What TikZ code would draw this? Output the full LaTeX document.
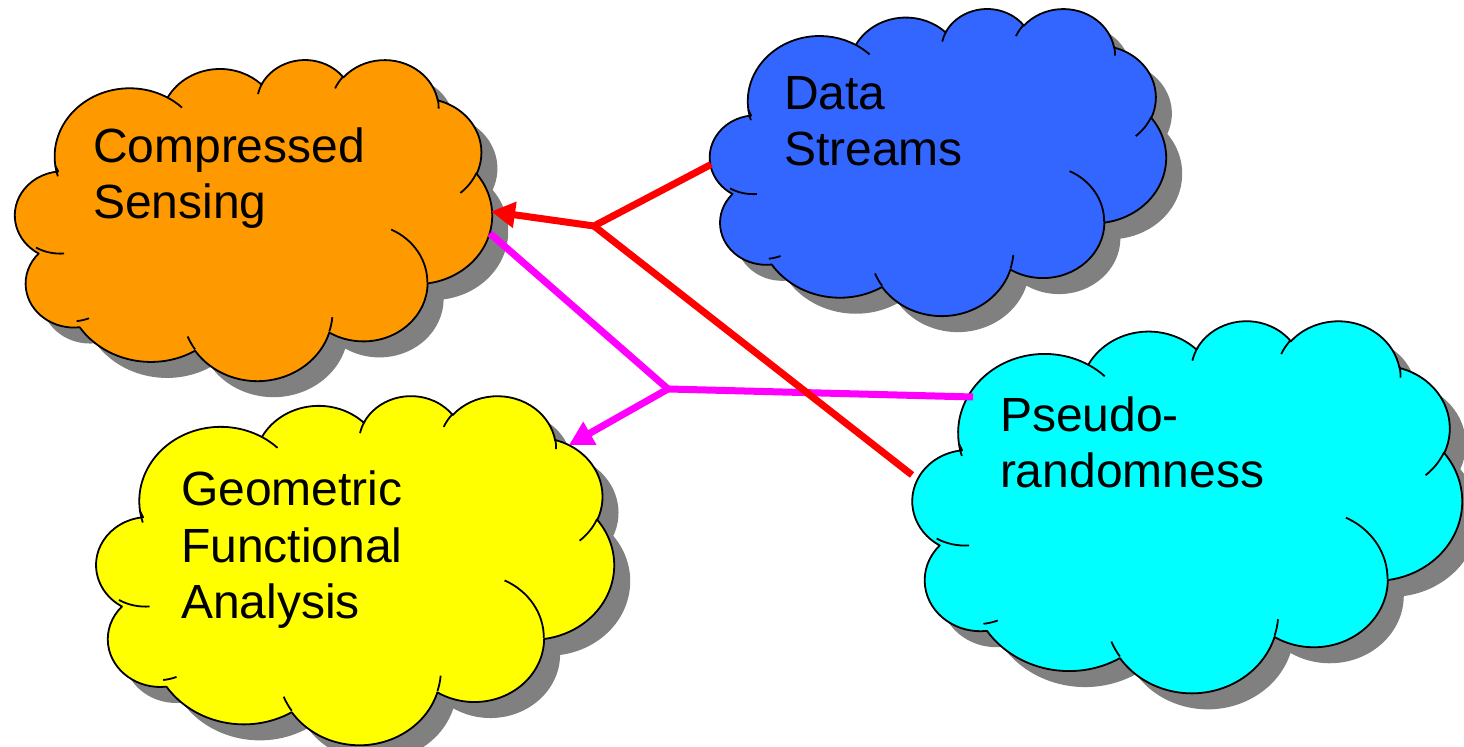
\documentclass[tikz,border=0pt]{standalone}
\usepackage{fontspec}
\setmainfont{Liberation Sans}
\usetikzlibrary{arrows.meta,calc}
\definecolor{cloudorange}{HTML}{FF9900}
\definecolor{cloudblue}{HTML}{3366FF}
\definecolor{cloudcyan}{HTML}{00FFFF}
\definecolor{cloudyellow}{HTML}{FFFF00}
\definecolor{shadowgray}{HTML}{808080}
\definecolor{linkred}{HTML}{FF0000}
\definecolor{linkmagenta}{HTML}{FF00FF}

% elliptical arc with DrawingML (visual) angles
\newcommand\pptarc[4]{%
  \pgfmathsetmacro\pptA{atan2((#1)*sin(#3),(#2)*cos(#3))}%
  \pgfmathsetmacro\pptB{atan2((#1)*sin((#3)+(#4)),(#2)*cos((#3)+(#4)))}%
  \pgfmathsetmacro\pptD{mod(\pptB-\pptA+720,360)}%
  \pgfmathsetmacro\pptE{\pptA+\pptD}%
  \pgfpatharcaxes{\pptA}{\pptE}{\pgfpointxy{#1}{0}}{\pgfpointxy{0}{#2}}%
}
\newcommand\cloudoutline{%
  \pgfpathmoveto{\pgfpointxy{3.900}{14.370}}%
  \pptarc{6.753}{9.190}{-190.48748}{123.78053}%
  \pptarc{5.333}{7.267}{-144.10238}{89.94523}%
  \pptarc{4.365}{5.945}{-145.80792}{99.72302}%
  \pptarc{4.857}{6.595}{-130.98607}{117.24173}%
  \pptarc{5.333}{7.273}{-78.70888}{109.02692}%
  \pptarc{6.775}{9.220}{-46.26725}{130.26900}%
  \pptarc{5.785}{7.867}{0.62502}{114.03333}%
  \pptarc{6.752}{9.215}{22.45160}{115.17255}%
  \pptarc{7.720}{10.543}{66.24263}{71.25458}%
  \pptarc{4.360}{5.918}{-274.94208}{146.73557}%
  \pptarc{4.345}{5.945}{-246.82850}{152.51885}%
  \pgfpathclose}
\newcommand\cloudinner{%
  \pgfpathmoveto{\pgfpointxy{4.693}{26.177}}\pptarc{4.345}{5.945}{86.74200}{26.42950}%
  \pgfpathmoveto{\pgfpointxy{6.928}{34.899}}\pptarc{4.360}{5.918}{73.61047}{11.44747}%
  \pgfpathmoveto{\pgfpointxy{16.478}{39.090}}\pptarc{6.752}{9.215}{137.62415}{14.08110}%
  \pgfpathmoveto{\pgfpointxy{28.827}{34.751}}\pptarc{6.752}{9.215}{6.45327}{15.99835}%
  \pgfpathmoveto{\pgfpointxy{34.129}{22.954}}\pptarc{5.785}{7.867}{-70.29235}{70.91737}%
  \pgfpathmoveto{\pgfpointxy{41.798}{15.354}}\pptarc{5.333}{7.273}{30.31803}{27.75150}%
  \pgfpathmoveto{\pgfpointxy{38.324}{5.426}}\pptarc{4.857}{6.595}{-13.74433}{14.85375}%
  \pgfpathmoveto{\pgfpointxy{29.078}{3.952}}\pptarc{4.857}{6.595}{-149.18145}{18.19537}%
  \pgfpathmoveto{\pgfpointxy{22.141}{4.720}}\pptarc{4.365}{5.945}{-163.49427}{19.00547}%
  \pgfpathmoveto{\pgfpointxy{14.000}{5.192}}\pptarc{6.753}{9.190}{-66.70695}{12.31935}%
  \pgfpathmoveto{\pgfpointxy{4.127}{15.789}}\pptarc{6.753}{9.190}{157.65435}{11.85817}%
}
% #1,#2 top-left (px), #3 width, #4 height, #5 fill colour
\newcommand\drawcloud[5]{%
  \pgfmathsetmacro\cldx{#3/43.2*0.5}%
  \pgfmathsetmacro\cldy{-#4/43.2*0.5}%
  \begin{scope}[shift={(#1+16,#2+16)}, x=\cldx pt, y=\cldy pt]
    \pgfsetfillcolor{shadowgray}\cloudoutline\pgfusepath{fill}
  \end{scope}
  \begin{scope}[shift={(#1,#2)}, x=\cldx pt, y=\cldy pt]
    \pgfsetfillcolor{#5}\pgfsetstrokecolor{black}\pgfsetlinewidth{0.9pt}%
    \pgfsetroundjoin
    \cloudoutline\pgfusepath{fill,stroke}
    \cloudinner\pgfusepath{stroke}
  \end{scope}
}

\tikzset{
  cloudbox/.style 2 args={draw=none, inner sep=0pt, outer sep=0pt,
    minimum width=#1*0.5pt, minimum height=#2*0.5pt},
  lbl/.style={font=\fontsize{24}{28.4}\selectfont, align=left,
    anchor=base west, inner sep=0pt, outer sep=0pt},
  link/.style={line width=3.5pt},
  redlink/.style={link, draw=linkred},
  maglink/.style={link, draw=linkmagenta},
  tipred/.style={-{Triangle[length=12pt,width=12.5pt,fill=linkred]}},
  tipmag/.style={-{Triangle[length=12pt,width=12.5pt,fill=linkmagenta]}}
}

\begin{document}
\begin{tikzpicture}[x=0.5pt,y=-0.5pt]
\useasboundingbox (0,0) rectangle (1464,747);

% clouds
\drawcloud{12}{59}{480}{321}{cloudorange}
\drawcloud{707}{8}{459}{307}{cloudblue}
\drawcloud{93}{395}{521}{349}{cloudyellow}
\drawcloud{909}{320}{553}{372}{cloudcyan}

\node[cloudbox={480}{321}] (cs) at (252,219.5) {};
\node[cloudbox={459}{307}] (ds) at (936.5,161.5) {};
\node[cloudbox={553}{372}] (ps) at (1185.5,506) {};
\node[cloudbox={521}{349}] (ga) at (353.5,569.5) {};

% labels (anchor = baseline of the last line)
\node[lbl] (cs-t) at (93,219) {Compressed\\Sensing};
\node[lbl] (ds-t) at (784,166) {Data\\Streams};
\node[lbl] (ps-t) at (1000,488) {Pseudo-\\randomness};
\node[lbl] (ga-t) at (181,619) {Geometric\\Functional\\Analysis};

% junctions
\coordinate (j1) at (594,226);
\coordinate (j2) at (668,389);

% magenta links
\draw[maglink, tipmag] ($(ps.north west)+(64,77)$) -- (j2) -- ($(ga.north east)+(-45,50)$);
\draw[maglink] ($(cs.east)+(-2,14)$) -- (j2);

% red links
\draw[redlink, tipred] ($(ds.west)+(4,3)$) -- (j1) -- ($(cs.east)+(-1,-8)$);
\draw[redlink] ($(ps.west)+(3,-31)$) -- (j1);
\end{tikzpicture}
\end{document}
